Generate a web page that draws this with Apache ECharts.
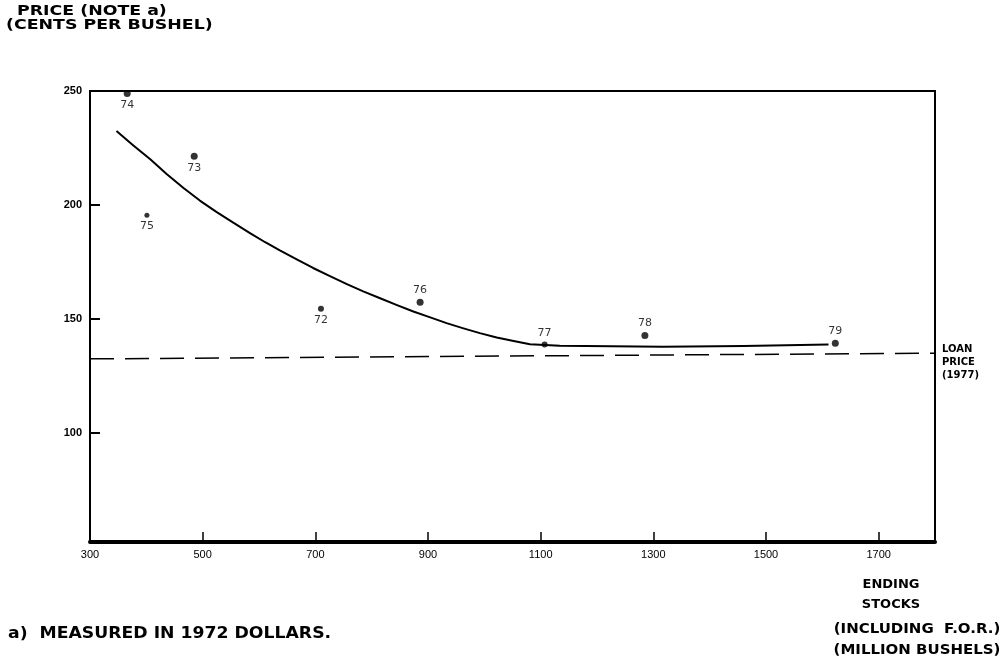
<!DOCTYPE html>
<html>
<head>
<meta charset="utf-8">
<script src="https://cdn.jsdelivr.net/npm/echarts@6/dist/echarts.min.js"></script>
<style>
  html, body { margin: 0; padding: 0; background: #fff; }
  #chart { width: 1007px; height: 667px; }
</style>
</head>
<body>
<div id="chart"></div>
<script>
// Crop years (labels) and their ending stocks / prices
const years = ['74', '73', '75', '72', '76', '77', '78', '79'];
const endingStocks = [366, 485, 401, 710, 886, 1107, 1285, 1623];
const prices = [248.9, 221.4, 195.4, 154.4, 157.3, 138.7, 142.7, 139.3];
const labelSide = ['bottom', 'bottom', 'bottom', 'bottom', 'top', 'top', 'top', 'top'];
const dotSize = [7, 7, 5, 6, 7, 6, 7, 7];

// Fitted price curve (stocks, price)
const curveStocks = [347, 377, 407, 436, 466, 495, 525, 555, 584, 611, 637, 667, 696, 726, 756, 785, 815, 845, 874, 904, 933, 963, 992, 1022, 1052, 1081, 1134, 1317, 1460, 1611];
const curvePrices = [232.4, 226.1, 220.0, 213.6, 207.4, 201.9, 196.8, 192.1, 187.6, 183.6, 180.0, 176.1, 172.3, 168.7, 165.2, 162.0, 159.0, 156.0, 153.2, 150.6, 148.1, 145.8, 143.7, 141.8, 140.2, 138.8, 138.2, 137.7, 138.0, 138.7];

// 1977 loan price reference line
const loanStocks = [300, 1800];
const loanPrices = [132.4, 134.9];

const xTicks = [300, 500, 700, 900, 1100, 1300, 1500, 1700];
const yTicks = [100, 150, 200, 250];

const font = '"Liberation Sans", Arial, sans-serif';
const wide = '"DejaVu Sans", "Liberation Sans", sans-serif';
const chart = echarts.init(document.getElementById('chart'));

chart.setOption({
  animation: false,
  backgroundColor: '#fff',
  grid: {
    left: 90, right: 72, top: 91, bottom: 125,
    show: true, borderColor: '#000', borderWidth: 2, backgroundColor: 'transparent'
  },
  xAxis: {
    type: 'value', min: 300, max: 1800,
    axisLine: { show: true, onZero: false, lineStyle: { color: '#000', width: 4 } },
    axisTick: { show: true, inside: true, length: 10, customValues: xTicks, lineStyle: { color: '#000', width: 1.5 } },
    axisLabel: { customValues: xTicks, formatter: v => String(v), color: '#000', fontFamily: font, fontSize: 11, margin: 7 },
    splitLine: { show: false }
  },
  yAxis: {
    type: 'value', min: 52, max: 250,
    axisLine: { show: true, lineStyle: { color: '#000', width: 2 } },
    axisTick: { show: true, inside: true, length: 10, customValues: yTicks, lineStyle: { color: '#000', width: 2 } },
    axisLabel: { customValues: yTicks, formatter: v => String(v), color: '#000', fontFamily: font, fontSize: 11, fontWeight: 'bold', margin: 8 },
    splitLine: { show: false }
  },
  series: [
    {
      type: 'line',
      data: curveStocks.map((s, i) => [s, curvePrices[i]]),
      smooth: false,
      symbol: 'none',
      lineStyle: { color: '#000', width: 2, join: 'round' },
      z: 3
    },
    {
      type: 'line',
      data: loanStocks.map((s, i) => [s, loanPrices[i]]),
      symbol: 'none',
      lineStyle: { color: '#000', width: 1.5, type: [24, 11] },
      z: 2
    },
    {
      type: 'scatter',
      data: endingStocks.map((s, i) => ({
        value: [s, prices[i]],
        name: years[i],
        symbolSize: dotSize[i],
        label: { position: labelSide[i] }
      })),
      itemStyle: { color: '#000' },
      label: {
        show: true,
        formatter: p => p.name,
        color: '#000',
        fontFamily: wide,
        fontSize: 11,
        distance: 3
      },
      z: 4
    }
  ],
  graphic: [
    {
      type: 'text', x: 17, y: 4, scaleX: 1.24,
      style: { text: 'PRICE (NOTE a)', font: 'bold 14px ' + wide, fill: '#000' }
    },
    {
      type: 'text', x: 6, y: 18, scaleX: 1.24,
      style: { text: '(CENTS PER BUSHEL)', font: 'bold 14px ' + wide, fill: '#000' }
    },
    {
      type: 'text', left: 942, top: 343,
      style: { text: 'LOAN\nPRICE\n(1977)', font: 'bold 10px ' + wide, fill: '#000', lineHeight: 13 }
    },
    {
      type: 'text', x: 891, y: 575,
      style: {
        text: 'ENDING\nSTOCKS', font: 'bold 13px ' + wide, fill: '#000',
        align: 'center', lineHeight: 20
      }
    },
    {
      type: 'text', x: 917, y: 619, scaleX: 1.07,
      style: {
        text: '(INCLUDING  F.O.R.)\n(MILLION BUSHELS)', font: 'bold 14px ' + wide, fill: '#000',
        align: 'center', lineHeight: 21
      }
    },
    {
      type: 'text', x: 8, y: 627, scaleX: 1.15,
      style: { text: 'a)  MEASURED IN 1972 DOLLARS.', font: 'bold 15px ' + wide, fill: '#000' }
    }
  ]
});
</script>
</body>
</html>
